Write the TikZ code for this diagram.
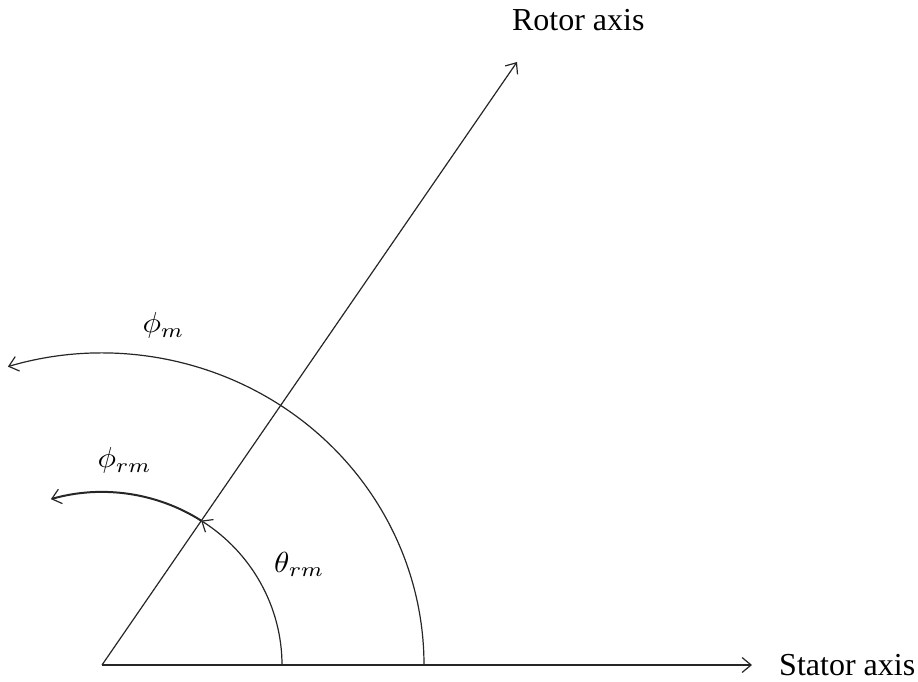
\documentclass[tikz,border=0pt]{standalone}
\usepackage{fontspec}
\setmainfont{Liberation Serif}
\usepackage{graphicx}
\usetikzlibrary{arrows.meta}
\newcommand{\bigmath}[1]{\scalebox{3.1}[2.9]{$#1$}}
\begin{document}
\begin{tikzpicture}[x=1pt,y=1pt,
  axisline/.style={line width=1.2pt, black!85},
  thickline/.style={line width=2pt, black!85},
  tip/.style={-{Straight Barb[length=9pt,width=15pt,line width=1.2pt]}},
  lbl/.style={inner sep=0pt, font=\fontsize{32}{38}\selectfont},
  mlbl/.style={inner sep=0pt, font=\fontsize{10}{12}\selectfont}]
\useasboundingbox (0,0) rectangle (918,681);
\coordinate (O) at (102,16);
\coordinate (S) at (752,16);
\coordinate (R) at (517,619);
\coordinate (A1) at (424,16);
\coordinate (A2) at (282,16);
% axes
\draw[axisline,tip] (O) -- (S);
\draw[axisline,tip] (O) -- (R);
% outer arc (phi_m)
\draw[axisline,tip] (A1) arc[start angle=0,end angle=107,x radius=322,y radius=312];
% inner arc (theta_rm)
\draw[axisline,tip] (A2) arc[start angle=0,end angle=56.6,x radius=180,y radius=173] coordinate (C);
% phi_rm arc
\draw[thickline,tip] (C) arc[start angle=56.6,end angle=106.5,x radius=180,y radius=173];
% labels
\node[lbl,anchor=base] (rotor) at (578.3,650.3) {Rotor axis};
\node[lbl,anchor=base west] (stator) at (779,6) {Stator axis};
\node[mlbl,anchor=base west] (phim) at (142.3,348.2) {\bigmath{\phi_m}};
\node[mlbl,anchor=base west] (phirm) at (97.3,213.3) {\bigmath{\phi_{rm}}};
\node[mlbl,anchor=base west] (thetarm) at (274,109) {\bigmath{\theta_{rm}}};
\end{tikzpicture}
\end{document}
